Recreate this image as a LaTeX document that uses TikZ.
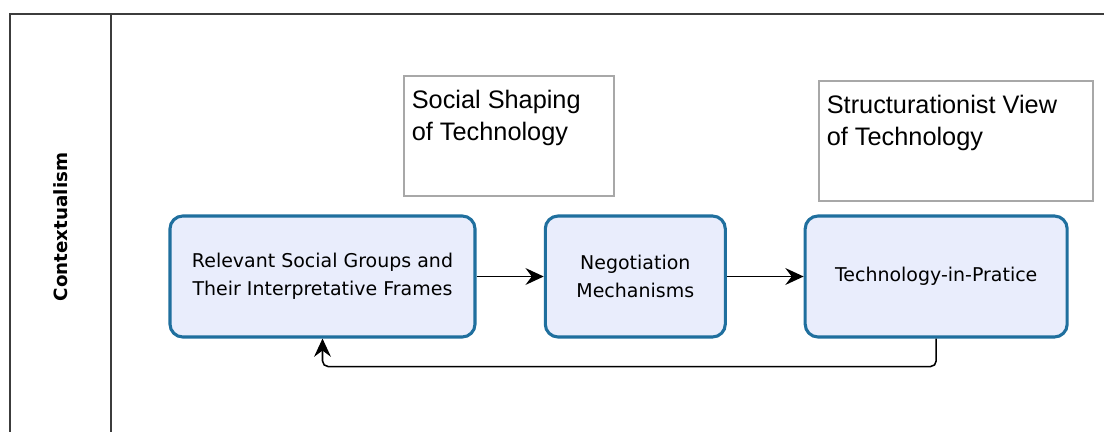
\documentclass[tikz,border=0pt]{standalone}
\usepackage{fontspec}
\setmainfont{DejaVu Sans}
\newfontfamily\headfont{Liberation Sans}
\usetikzlibrary{positioning,arrows.meta}
\definecolor{boxblue}{HTML}{1F6F9E}
\definecolor{boxfill}{HTML}{E9EDFC}
\definecolor{noteline}{HTML}{A8A8A8}
\definecolor{laneline}{HTML}{3C3C3C}

\begin{document}
\begin{tikzpicture}[node distance=1.68cm]
  \tikzstyle{roundrect} = [rectangle, rounded corners=0.32cm, minimum height=3.025cm, draw=boxblue, line width=2.2pt, fill=boxfill, align=center, font=\fontsize{13.5}{20}\selectfont]
  \tikzstyle{notebox} = [rectangle, draw=noteline, line width=1.2pt, inner xsep=0.2cm, inner ysep=0.35cm, anchor=north west, font=\headfont\fontsize{18}{22.7}\selectfont]
  \tikzstyle{lane} = [draw=laneline, line width=1.4pt]
  \tikzstyle{arrow} = [line width=1.1pt,->,>={Stealth[length=13pt,width=12pt,inset=4.5pt]}]

  \useasboundingbox (0,0) rectangle (27.6,-10.8);
  \draw [lane] (27.6,-0.35) -- (0.25,-0.35) -- (0.25,-10.8);
  \draw [lane] (2.775,-0.35) -- (2.775,-10.8);
  \node (lanename) [rotate=90, font=\bfseries\fontsize{13}{15}\selectfont] at (1.525,-5.675) {Contextualism};

  \node (groups) [roundrect, minimum width=7.625cm] at (8.0625,-6.9125) {Relevant Social Groups and\\Their Interpretative Frames};
  \node (mechanisms) [roundrect, right=of groups, minimum width=4.5cm] {Negotiation\\Mechanisms};
  \node (practice) [roundrect, right=1.92cm of mechanisms, minimum width=6.55cm] {Technology-in-Pratice};

  \node (shaping) [notebox] at (10.075,-1.875) {\parbox[t][2.3cm][t]{4.85cm}{Social Shaping\\of Technology}};
  \node (structview) [notebox] at (20.45,-2.0) {\parbox[t][2.3cm][t]{6.45cm}{Structurationist View\\of Technology}};

  \draw [arrow] (groups) -- (mechanisms);
  \draw [arrow] (mechanisms) -- (practice);
  \draw [arrow, rounded corners=4pt] (practice.south) -- ++(0,-0.7) -| (groups.south);
\end{tikzpicture}
\end{document}
